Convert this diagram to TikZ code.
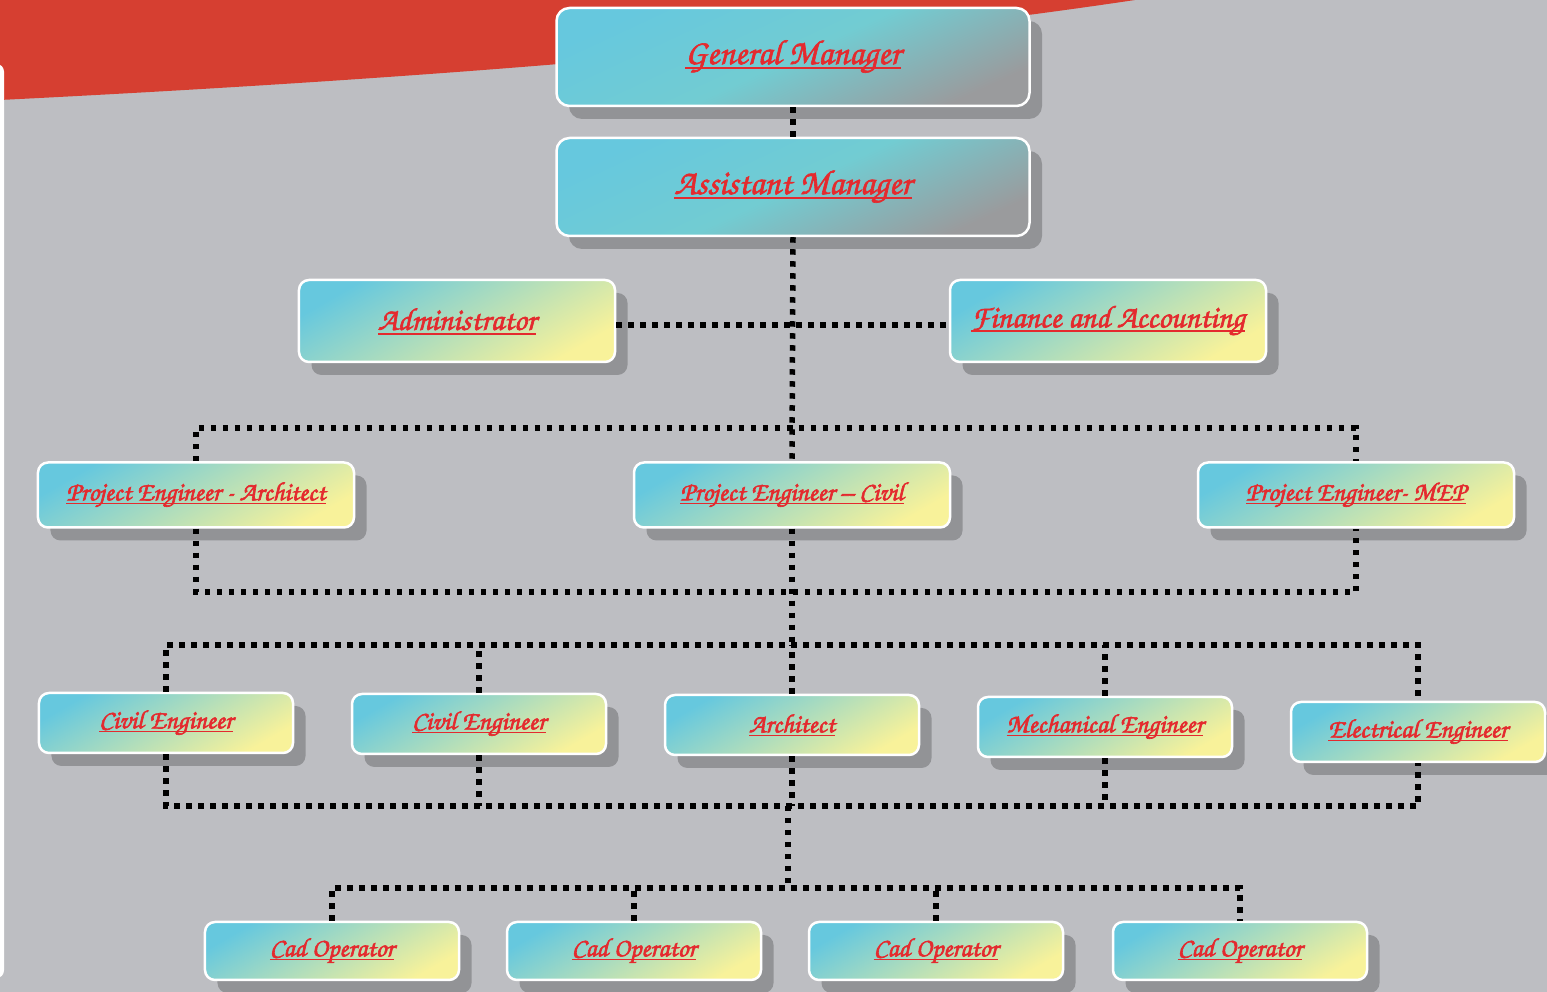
\documentclass[tikz,border=0pt]{standalone}
\usepackage[T1,TU]{fontenc}
\usepackage{xcolor}
\usetikzlibrary{shadows,calc}

\definecolor{backgrey}{HTML}{BDBEC2}
\definecolor{swoosh}{HTML}{D63F31}
\definecolor{boxcyan}{HTML}{66C8DE}
\definecolor{boxmid}{HTML}{72CCD2}
\definecolor{boxgrey}{HTML}{9A9B9D}
\definecolor{boxyellow}{HTML}{F8F29A}
\definecolor{shadowgrey}{HTML}{929396}
\definecolor{titlered}{HTML}{E42A2E}
\newcommand\chancery{\fontencoding{T1}\fontfamily{pzc}\fontseries{mb}\fontshape{it}\selectfont}
\newcommand\heavy[1]{\setbox0\hbox{\special{pdf:literal direct 2 Tr 0.35 w}#1\special{pdf:literal direct 0 Tr 0.4 w}}%
  \leavevmode\rlap{\rule[-0.15em]{\wd0}{0.055em}}\box0}

\begin{document}
\begin{tikzpicture}[x=0.2mm,y=-0.2mm,
  post/.style={rectangle, rounded corners=2mm, draw=white, line width=0.5mm, inner sep=0pt, text=titlered,
    general shadow={fill=shadowgrey, shadow xshift=2.5mm, shadow yshift=-2.6mm}},
  head/.style={post, top color=boxcyan, bottom color=boxgrey, middle color=boxmid, shading angle=25,
    minimum width=94.6mm, minimum height=19.6mm, rounded corners=2.6mm, font=\chancery\fontsize{20}{24}\selectfont},
  pale/.style={post, top color=boxcyan, bottom color=boxyellow, shading angle=30},
  side/.style={pale, minimum width=63.2mm, minimum height=16.4mm, font=\chancery\fontsize{18}{21}\selectfont},
  lead/.style={pale, minimum width=63.2mm, minimum height=13mm, font=\chancery\fontsize{15}{18}\selectfont},
  staff/.style={pale, minimum width=50.8mm, minimum height=12mm, font=\chancery\fontsize{15}{18}\selectfont},
  cad/.style={pale, minimum width=50.8mm, minimum height=11.6mm, font=\chancery\fontsize{15}{18}\selectfont},
  link/.style={line width=1.1mm, dash pattern=on 1.1mm off 1.3mm}]

% backdrop
\useasboundingbox (0,0) rectangle (1547,992);
\fill[backgrey] (0,0) rectangle (1547,992);
\fill[swoosh] (0,0) -- (1135,0) .. controls (800,50) and (400,80) .. (0,100) -- cycle;
\fill[white, rounded corners=1.5mm] (-20,64) rectangle (4,978);

\node[head] (gm) at (793,57) {\heavy{General Manager}};
\node[head] (am) at (793,187) {\heavy{Assistant Manager}};

\node[side] (adm) at (457,321) {\heavy{Administrator}};
\node[side] (fin) at (1108,321) {\heavy{Finance and Accounting}};

\node[lead] (pea) at (196,495) {\heavy{Project Engineer - Architect}};
\node[lead] (pec) at (792,495) {\heavy{Project Engineer -- Civil}};
\node[lead] (pem) at (1356,495) {\heavy{Project Engineer- MEP}};

\node[staff] (ce1) at (166,723) {\heavy{Civil Engineer}};
\node[staff] (ce2) at (479,724) {\heavy{Civil Engineer}};
\node[staff] (arc) at (792,725) {\heavy{Architect}};
\node[staff] (mech) at (1105,727) {\heavy{Mechanical Engineer}};
\node[staff] (elec) at (1418,732) {\heavy{Electrical Engineer}};

\node[cad] (cad1) at (332,951) {\heavy{Cad Operator}};
\node[cad] (cad2) at (634,951) {\heavy{Cad Operator}};
\node[cad] (cad3) at (936,951) {\heavy{Cad Operator}};
\node[cad] (cad4) at (1240,951) {\heavy{Cad Operator}};

\coordinate (bus1) at (792,428);
\coordinate (bus2) at (792,592);
\coordinate (bus3) at (792,645);
\coordinate (bus4) at (788,806);
\coordinate (bus5) at (788,888);

\draw[link] (gm.south) -- (am.north);
\draw[link] (am.south) -- (pec.north);
\draw[link] ([yshift=-0.8mm]adm.east) -- ([yshift=-0.8mm]fin.west);
\draw[link] (pea.north) |- (bus1) -| (pem.north);
\draw[link] (pea.south) |- (bus2) -| (pem.south);
\draw[link] (pec.south) -- (bus3);
\draw[link] (ce1.north) |- (bus3) -| (elec.north);
\foreach \n in {ce2,arc,mech}
  \draw[link] (\n.north) -- (\n.north |- bus3);
\draw[link] (ce1.south) |- (bus4) -| (elec.south);
\foreach \n in {ce2,arc,mech}
  \draw[link] (\n.south) -- (\n.south |- bus4);
\draw[link] (bus4) -- (bus5);
\draw[link] (cad1.north) |- (bus5) -| (cad4.north);
\foreach \n in {cad2,cad3}
  \draw[link] (\n.north) -- (\n.north |- bus5);
\end{tikzpicture}
\end{document}
